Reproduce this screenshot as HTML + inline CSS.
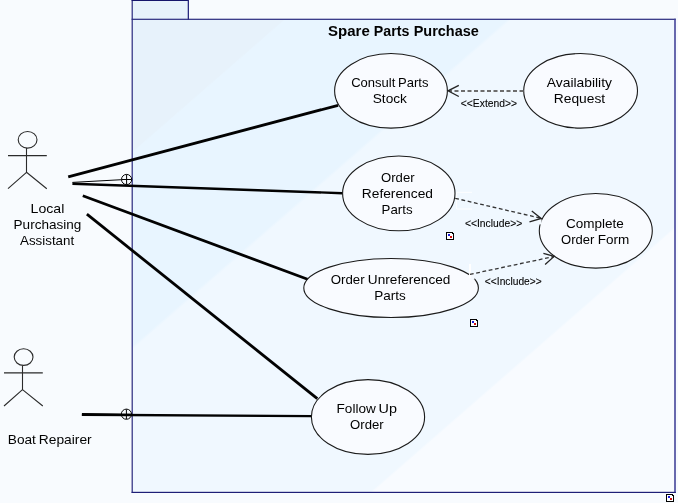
<!DOCTYPE html>
<html>
<head>
<meta charset="utf-8">
<title>Spare Parts Purchase</title>
<style>
html,body{margin:0;padding:0;background:#f8fbfe;}
body{width:678px;height:503px;overflow:hidden;}
svg{display:block;}
text{font-family:"Liberation Sans",Arial,sans-serif;fill:#000;}
.t{font-size:13.6px;}
.tb{font-size:14px;font-weight:bold;}
.s{font-size:11px;stroke:#000;stroke-width:0.1px;}
.uc{fill:#f9fbff;stroke:#1a1a1a;stroke-width:1.1;}
.as{stroke:#000;stroke-width:2.8;fill:none;}
.thin{stroke:#000;stroke-width:1;fill:none;}
.act{stroke:#2a2a2a;stroke-width:1.1;fill:none;}
.dash{stroke:#333;stroke-width:1.3;fill:none;stroke-dasharray:3.8 2.6;}
.dashh{stroke:#6c6c6c;stroke-width:2;fill:none;stroke-dasharray:4 2.5;}
.arr{stroke:#222;stroke-width:1.3;fill:none;}
</style>
</head>
<body>
<svg width="678" height="503" viewBox="0 0 678 503">
<defs>
<linearGradient id="g" gradientUnits="objectBoundingBox" x1="0" y1="0" x2="1" y2="1">
<stop offset="0" stop-color="#e7f2fb"/>
<stop offset="0.140" stop-color="#e7f2fb"/>
<stop offset="0.142" stop-color="#e8f5ff"/>
<stop offset="0.346" stop-color="#e8f5ff"/>
<stop offset="0.350" stop-color="#f0f8ff"/>
<stop offset="0.719" stop-color="#f0f8ff"/>
<stop offset="0.722" stop-color="#f8fbff"/>
<stop offset="1" stop-color="#f8fbff"/>
</linearGradient>
</defs>
<rect x="0" y="0" width="678" height="503" fill="#f8fbfe"/>
<g opacity="0.996">
<!-- package -->
<rect x="132" y="19" width="543" height="473" fill="url(#g)"/>
<rect x="132" y="0" width="56" height="19" fill="#e7f2fb"/>
<g fill="#28287e">
<rect x="131.6" y="0" width="1.2" height="493"/>
<rect x="131.6" y="0" width="57.4" height="1" fill="#14146a"/>
<rect x="187.7" y="0" width="1.3" height="19.8"/>
<rect x="131.6" y="18.7" width="544.2" height="1.2"/>
<rect x="674.2" y="18.7" width="1.6" height="474.3" fill="#44449a"/>
<rect x="131.6" y="491.8" width="544.2" height="1.2" fill="#1e1e76"/>
</g>

<!-- associations -->
<path class="as" d="M68.2 176.8L338.1 105.3"/>
<path class="as" style="stroke-width:2.4" d="M72.4 183.7L342.5 193.2"/>
<path class="as" d="M82.8 195.7L307.6 279.3"/>
<path class="as" d="M86.9 214.2L317.3 398.6"/>
<path class="as" style="stroke-width:2.4" d="M81.8 414.8L311 416.1"/>
<path class="thin" d="M72.4 182.4L121.6 179.7"/>
<path class="thin" d="M82 413.5L121.4 414.1"/>
<g class="thin">
<circle cx="126.6" cy="179.5" r="5.1"/><path d="M121.7 179.5H131.5M126.6 174.6V184.4"/>
<circle cx="126.4" cy="414.2" r="5.1"/><path d="M121.5 414.2H131.3M126.4 409.3V419.1"/>
</g>

<!-- actors -->
<g class="act" transform="translate(27.6 139.7)">
<ellipse cx="0" cy="0.1" rx="9.4" ry="8.3"/>
<path d="M-1.1 8.4V32.6M-19.6 15.9H19.2M-1.1 32.6L-19.6 49M-1.1 32.6L19.2 49"/>
</g>
<g class="act" transform="translate(23.6 357)">
<ellipse cx="0" cy="0.1" rx="9.4" ry="8.3"/>
<path d="M-1.1 8.4V32.6M-19.6 15.9H19.2M-1.1 32.6L-19.6 49M-1.1 32.6L19.2 49"/>
</g>

<!-- use cases -->
<ellipse class="uc" cx="391" cy="90.8" rx="56.4" ry="37.3"/>
<ellipse class="uc" cx="580.6" cy="90.8" rx="56.9" ry="37.3"/>
<ellipse class="uc" cx="398.8" cy="193.4" rx="56.2" ry="37.4"/>
<ellipse class="uc" cx="595.8" cy="230.8" rx="56.5" ry="37.3"/>
<ellipse class="uc" cx="391.1" cy="288" rx="87.3" ry="29.5"/>
<ellipse class="uc" cx="368" cy="417" rx="56.6" ry="37.4"/>

<!-- artifacts -->
<rect x="470" y="273.3" width="4.6" height="6.2" fill="#f4f9ff"/>
<rect x="539" y="219.6" width="2.6" height="4.8" fill="#f5faff"/>
<path d="M472 192.3H456.6V209H472" fill="none" stroke="#fff" stroke-width="1" opacity="0.9"/>
<path d="M470 264V278" fill="none" stroke="#fff" stroke-width="2"/>
<!-- dependencies -->
<path class="dashh" d="M523.5 91H449"/>
<path class="arr" d="M458.8 85.3L448 90.8L458.8 96.5"/>
<path class="dash" d="M455.2 198.3L541.2 218.3"/>
<path class="arr" d="M531.8 211.1L541.2 218.4L529.5 221.9"/>
<path class="dash" d="M469.9 274.4L554.1 256.5"/>
<path class="arr" d="M543.4 253.3L554.1 256.4L545.1 264.5"/>

<!-- labels -->
<text class="tb" y="36"><tspan x="328.10" textLength="41.71" lengthAdjust="spacingAndGlyphs">Spare</tspan> <tspan x="373.88" textLength="35.58" lengthAdjust="spacingAndGlyphs">Parts</tspan> <tspan x="413.67" textLength="65.11" lengthAdjust="spacingAndGlyphs">Purchase</tspan></text>
<text class="t" y="87"><tspan x="351.19" textLength="44.14" lengthAdjust="spacingAndGlyphs">Consult</tspan> <tspan x="398.07" textLength="30.41" lengthAdjust="spacingAndGlyphs">Parts</tspan></text>
<text class="t" x="372.73" y="103" textLength="34.22" lengthAdjust="spacingAndGlyphs">Stock</text>
<text class="t" x="546.84" y="87" textLength="65.08" lengthAdjust="spacingAndGlyphs">Availability</text>
<text class="t" x="553.78" y="103" textLength="51.37" lengthAdjust="spacingAndGlyphs">Request</text>
<text class="t" x="381.04" y="182" textLength="33.52" lengthAdjust="spacingAndGlyphs">Order</text>
<text class="t" x="361.77" y="198" textLength="71.24" lengthAdjust="spacingAndGlyphs">Referenced</text>
<text class="t" x="381.59" y="214" textLength="30.98" lengthAdjust="spacingAndGlyphs">Parts</text>
<text class="t" x="565.96" y="228" textLength="57.92" lengthAdjust="spacingAndGlyphs">Complete</text>
<text class="t" y="244"><tspan x="561.05" textLength="33.32" lengthAdjust="spacingAndGlyphs">Order</tspan> <tspan x="597.79" textLength="31.55" lengthAdjust="spacingAndGlyphs">Form</tspan></text>
<text class="t" y="284"><tspan x="330.65" textLength="33.91" lengthAdjust="spacingAndGlyphs">Order</tspan> <tspan x="367.89" textLength="82.51" lengthAdjust="spacingAndGlyphs">Unreferenced</tspan></text>
<text class="t" x="374.19" y="300" textLength="31.53" lengthAdjust="spacingAndGlyphs">Parts</text>
<text class="t" y="413"><tspan x="336.59" textLength="39.21" lengthAdjust="spacingAndGlyphs">Follow</tspan> <tspan x="378.59" textLength="18.37" lengthAdjust="spacingAndGlyphs">Up</tspan></text>
<text class="t" x="350.05" y="429" textLength="33.57" lengthAdjust="spacingAndGlyphs">Order</text>
<text class="t" x="30.56" y="213" textLength="33.74" lengthAdjust="spacingAndGlyphs">Local</text>
<text class="t" x="13.58" y="229" textLength="67.72" lengthAdjust="spacingAndGlyphs">Purchasing</text>
<text class="t" x="20.00" y="245" textLength="54.19" lengthAdjust="spacingAndGlyphs">Assistant</text>
<text class="t" y="444"><tspan x="7.78" textLength="28.11" lengthAdjust="spacingAndGlyphs">Boat</tspan> <tspan x="38.78" textLength="52.91" lengthAdjust="spacingAndGlyphs">Repairer</tspan></text>
<text class="s" x="460.83" y="107" textLength="56.17" lengthAdjust="spacingAndGlyphs">&lt;&lt;Extend&gt;&gt;</text>
<text class="s" x="464.95" y="227" textLength="57.26" lengthAdjust="spacingAndGlyphs">&lt;&lt;Include&gt;&gt;</text>
<text class="s" x="484.87" y="285" textLength="56.88" lengthAdjust="spacingAndGlyphs">&lt;&lt;Include&gt;&gt;</text>

<!-- icons -->
<g shape-rendering="crispEdges" transform="translate(446 232)">
<path d="M0 0H7V1H8V8H0Z" fill="#000"/><path d="M1 1H6V2H7V7H1Z" fill="#fff"/>
<rect x="2" y="2" width="2" height="2" fill="#1a1ad8"/>
<rect x="4" y="4" width="2" height="2" fill="#d01010"/>
</g>
<g shape-rendering="crispEdges" transform="translate(470 319)">
<path d="M0 0H7V1H8V8H0Z" fill="#000"/><path d="M1 1H6V2H7V7H1Z" fill="#fff"/>
<rect x="2" y="2" width="2" height="2" fill="#1a1ad8"/>
<rect x="4" y="4" width="2" height="2" fill="#d01010"/>
</g>
<g shape-rendering="crispEdges" transform="translate(666 494)">
<path d="M0 0H7V1H8V8H0Z" fill="#000"/><path d="M1 1H6V2H7V7H1Z" fill="#fff"/>
<rect x="2" y="2" width="2" height="2" fill="#1a1ad8"/>
<rect x="4" y="4" width="2" height="2" fill="#d01010"/>
</g>
</g>
</svg>
</body>
</html>
